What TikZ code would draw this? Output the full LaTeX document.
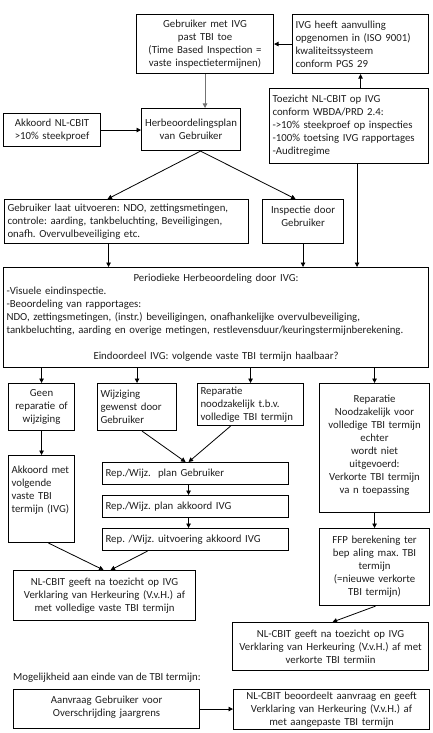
\documentclass[tikz,border=0pt]{standalone}
\usepackage{fontspec}
\setmainfont{Carlito}
\frenchspacing
\usetikzlibrary{arrows.meta,calc}
\newcommand\BoxAt[7]{%
  \pgfmathsetmacro\bxw{#4-#2}\pgfmathsetmacro\bxh{#5-#3}\pgfmathsetmacro\bxtw{#4-#2-6}%
  \node[box, anchor=north west, minimum width=\bxw pt, minimum height=\bxh pt,
        text width=\bxtw pt, align=#6] (#1) at (#2,#3) {#7};}
\tikzset{
  box/.style={draw=black, line width=1.1pt, inner xsep=3pt, inner ysep=2.5pt,
              font=\fontsize{10.8}{13}\selectfont\frenchspacing, text=black!88},
  arr/.style={-{Triangle[length=4.5pt,width=4.5pt]}, line width=0.8pt, draw=black},
  plain/.style={font=\fontsize{10.8}{13}\selectfont, text=black!88, inner sep=0pt}
}
\begin{document}
\begin{tikzpicture}[x=1pt,y=-1pt]
\useasboundingbox[fill=white] (0,0) rectangle (432,733);
\BoxAt{geb}{136}{14}{273}{73}{center}{Gebruiker met IVG\\past TBI toe\\(Time Based Inspection =\\vaste inspectietermijnen)}
\BoxAt{ivg}{292}{14}{428}{73}{left}{IVG heeft aanvulling\\opgenomen in (ISO 9001)\\kwaliteitssysteem\\conform PGS 29}
\BoxAt{toez}{269}{88}{428}{163}{left}{Toezicht NL-CBIT op IVG\\conform WBDA/PRD 2.4:\\->10\% steekproef op inspecties\\-100\% toetsing IVG rapportages\\-Auditregime}
\BoxAt{akk}{3}{113}{100}{146}{center}{Akkoord NL-CBIT\\>10\% steekproef}
\BoxAt{herb}{141}{108}{240}{150}{center}{Herbeoordelingsplan\\van Gebruiker}
\BoxAt{gbl}{4}{199}{248}{243}{left}{Gebruiker laat uitvoeren: NDO, zettingsmetingen,\\controle: aarding, tankbeluchting, Beveiligingen,\\onafh. Overvulbeveiliging etc.}
\BoxAt{insp}{262}{199}{343}{243}{center}{Inspectie door\\Gebruiker\rule[-10pt]{0pt}{0pt}}
\BoxAt{per}{3}{267}{428}{367}{left}{\hfill Periodieke Herbeoordeling door IVG:\hfill\null\\
-Visuele eindinspectie.\\
-Beoordeling van rapportages:\\
NDO, zettingsmetingen, (instr.) beveiligingen, onafhankelijke overvulbeveiliging,\\
tankbeluchting, aarding en overige metingen, restlevensduur/keuringstermijnberekening.\\[13pt]
\hfill Eindoordeel IVG: volgende vaste TBI termijn haalbaar?\hfill\null}
\BoxAt{geen}{8}{383}{74}{430}{center}{Geen\\reparatie of\\wijziging}
\BoxAt{wijz}{97}{383}{176}{430}{left}{Wijziging\\gewenst door\\Gebruiker}
\BoxAt{rep}{197}{383}{303}{425}{left}{Reparatie\\noodzakelijk t.b.v.\\volledige TBI termijn}
\BoxAt{rrep}{319}{383}{429}{512}{center}{Reparatie\\Noodzakelijk voor\\volledige TBI termijn\\echter\\wordt niet\\uitgevoerd:\\Verkorte TBI termijn\\va n toepassing\rule[-8pt]{0pt}{0pt}}
\BoxAt{rpg}{102}{462}{288}{484}{left}{Rep./Wijz.\ \ plan Gebruiker}
\BoxAt{rpa}{102}{495}{288}{517}{left}{Rep./Wijz. plan akkoord IVG}
\BoxAt{rpu}{102}{528}{288}{550}{left}{Rep. /Wijz. uitvoering akkoord IVG}
\BoxAt{akm}{8}{455}{74}{542}{left}{Akkoord met\\volgende\\vaste TBI\\termijn (IVG)\rule[-20pt]{0pt}{0pt}}
\BoxAt{ffp}{319}{528}{429}{605}{center}{FFP berekening ter\\bep aling max. TBI\\termijn\\(=nieuwe verkorte\\TBI termijn)}
\BoxAt{nlv}{13}{570}{195}{620}{center}{NL-CBIT geeft na toezicht op IVG\\Verklaring van Herkeuring (V.v.H.) af\\met volledige vaste TBI termijn}
\BoxAt{nlk}{232}{622}{428}{670}{center}{NL-CBIT geeft na toezicht op IVG\\Verklaring van Herkeuring (V.v.H.) af met\\verkorte TBI termiin}
\node[plain, anchor=west] (mog) at (13,678) {Mogelijkheid aan einde van de TBI termijn:};
\BoxAt{aanv}{13}{689}{199}{728}{center}{Aanvraag Gebruiker voor\\Overschrijding jaargrens\rule[-6pt]{0pt}{0pt}}
\BoxAt{beo}{233}{689}{429}{728}{center}{NL-CBIT beoordeelt aanvraag en geeft\\Verklaring van Herkeuring (V.v.H.) af\\met aangepaste TBI termijn}

% connectors
\draw[arr, draw=black!55] (geb.south) -- (geb.south |- herb.north);
\draw[arr] (ivg.west) -- (geb.east);
\draw[arr] (ivg.south |- toez.north) -- (ivg.south);
\draw[arr] (akk.east) -- (akk.east -| herb.west);
\draw[arr] ([xshift=9.5pt]herb.south) -- ([xshift=-19pt]gbl.north);
\draw[arr] ([xshift=9.5pt]herb.south) -- ([xshift=-7.5pt]insp.north);
\draw[arr] ([xshift=-18pt]gbl.south) -- ([xshift=-18pt]gbl.south |- per.north);
\draw[arr] (insp.south) -- (insp.south |- per.north);
\draw[arr] ([xshift=8pt]toez.south) -- ([xshift=8pt]toez.south |- per.north);
\draw[arr] (geen.north |- per.south) -- (geen.north);
\draw[arr] (wijz.north |- per.south) -- (wijz.north);
\draw[arr] (rep.north |- per.south) -- (rep.north);
\draw[arr] (rrep.north |- per.south) -- (rrep.north);
\draw[arr] ([xshift=5pt]wijz.south) -- ([xshift=-10pt]rpg.north);
\draw[arr] ([xshift=-20pt]rep.south) -- ([xshift=-7pt]rpg.north);
\draw[arr] ([xshift=-7pt]rpg.south) -- ([xshift=-7pt]rpa.north);
\draw[arr] ([xshift=-7pt]rpa.south) -- ([xshift=-7pt]rpu.north);
\draw[arr] (geen.south) -- (akm.north);
\draw[arr] ([xshift=7pt]akm.south) -- ([xshift=-1pt]nlv.north);
\draw[arr] ([xshift=-48pt]rpu.south) -- ([xshift=6pt]nlv.north);
\draw[arr] (rrep.south) -- (rrep.south |- ffp.north);
\draw[arr] ([xshift=1pt]ffp.south) -- ([xshift=2pt]nlk.north);
\draw[arr] (aanv.east) -- (aanv.east -| beo.west);
\end{tikzpicture}
\end{document}
